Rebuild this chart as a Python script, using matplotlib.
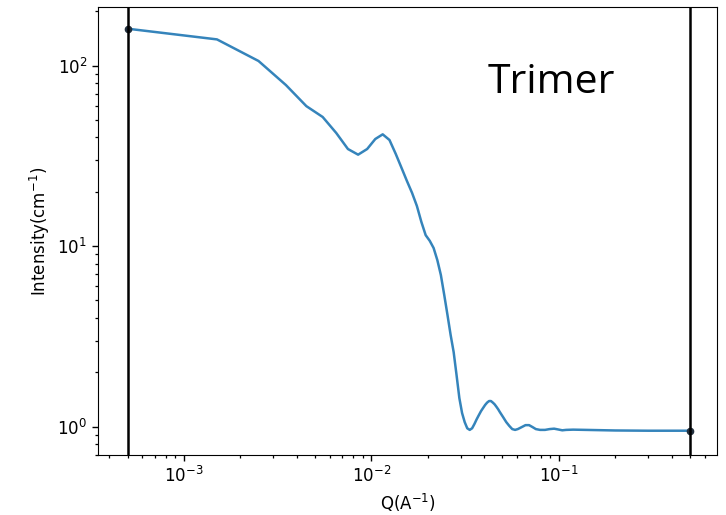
import matplotlib
matplotlib.use("Agg")
import matplotlib.pyplot as plt

# Scattering curve (Q in 1/A, intensity in 1/cm)
q = [5.0e-4, 1.5e-3, 2.5e-3, 3.5e-3, 4.5e-3, 5.5e-3, 6.5e-3, 7.5e-3,
     8.5e-3, 9.5e-3, 1.05e-2, 1.15e-2, 1.25e-2, 1.35e-2, 1.45e-2, 1.55e-2,
     1.65e-2, 1.75e-2, 1.85e-2, 1.95e-2, 2.05e-2, 2.15e-2, 2.25e-2, 2.35e-2,
     2.45e-2, 2.55e-2, 2.65e-2, 2.75e-2, 2.85e-2, 2.95e-2, 3.05e-2, 3.15e-2,
     3.25e-2, 3.35e-2, 3.45e-2, 3.55e-2, 3.65e-2, 3.75e-2, 3.85e-2, 3.95e-2,
     4.05e-2, 4.15e-2, 4.25e-2, 4.35e-2, 4.45e-2, 4.55e-2, 4.65e-2, 4.75e-2,
     4.85e-2, 5.05e-2, 5.25e-2, 5.45e-2, 5.65e-2, 5.85e-2, 6.05e-2, 6.35e-2,
     6.65e-2, 6.95e-2, 7.25e-2, 7.55e-2, 7.95e-2, 8.45e-2, 8.95e-2, 9.45e-2,
     9.95e-2, 0.1045, 0.1095, 0.1195, 0.1395, 0.2, 0.3, 0.5]
intensity = [160, 139.6, 106, 78, 59.6, 51.9, 42.3, 34.5,
             32.1, 34.5, 39.2, 41.6, 38.7, 32.4, 27.1, 22.9,
             19.7, 16.7, 13.6, 11.5, 10.7, 9.76, 8.37, 6.92,
             5.36, 4.15, 3.22, 2.59, 1.93, 1.44, 1.19, 1.06,
             0.98, 0.96, 0.98, 1.035, 1.10, 1.16, 1.22, 1.27,
             1.32, 1.36, 1.387, 1.387, 1.36, 1.33, 1.29, 1.25,
             1.206, 1.13, 1.06, 1.01, 0.97, 0.96, 0.97, 0.995,
             1.02, 1.02, 0.995, 0.97, 0.96, 0.96, 0.97, 0.975,
             0.965, 0.955, 0.96, 0.963, 0.96, 0.953, 0.95, 0.95]

q_bounds = [5e-4, 0.5]
label = "Trimer"

fig = plt.figure(figsize=(7.26, 5.15), dpi=100)
ax = fig.add_axes([98.3 / 726, 1 - 455 / 515, 618.4 / 726, 448 / 515])

ax.plot(q, intensity, color="#1f77b4", lw=1.8, alpha=0.9)
ax.plot([q[0], q[-1]], [intensity[0], intensity[-1]], "o",
        color="#22303e", ms=4.5)
for xb in q_bounds:
    ax.axvline(xb, color="black", lw=1.8)

ax.set_xscale("log")
ax.set_yscale("log")
ax.set_xlim(3.49e-4, 0.697)
ax.set_ylim(0.697, 211)

ax.tick_params(labelsize=12, length=4.5, width=1.0)
ax.tick_params(which="minor", length=2.5, width=0.9)
ax.set_xlabel(r"Q(A$^{-1}$)", fontsize=12)
ax.set_ylabel(r"Intensity(cm$^{-1}$)", fontsize=12)

ax.text(0.630, 0.808, label, transform=ax.transAxes, fontsize=29.5,
        family="Open Sans", ha="left", va="baseline")

fig.savefig("out.png", dpi=100)
